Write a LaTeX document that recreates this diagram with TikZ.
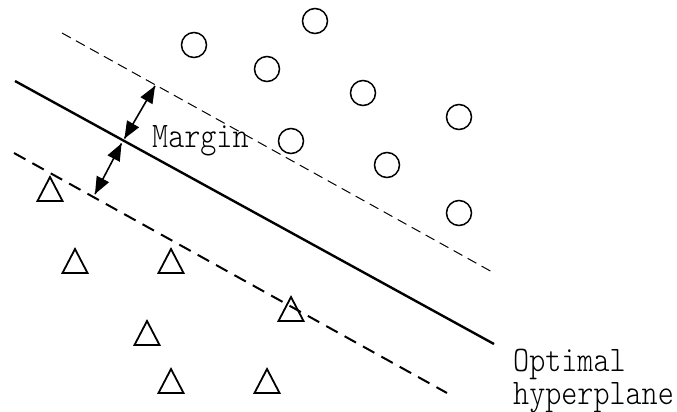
\documentclass[tikz,border=0pt]{standalone}
\usepackage{fontspec}
\usetikzlibrary{calc}
\newfontfamily\lblfont[FakeStretch=0.85]{Latin Modern Mono Light}
\tikzset{
  dot/.style={circle,draw,line width=1.5pt,minimum size=25pt,inner sep=0pt},
  tri/.style={line width=1.8pt,line join=miter},
  hyper/.style={line width=2.4pt},
  margthin/.style={line width=1pt,dash pattern=on 10pt off 6pt},
  margthick/.style={line width=2pt,dash pattern=on 13pt off 8pt},
  marrow/.style={line width=1.6pt},
  ahead/.style={fill=black,draw=none},
  lbl/.style={inner sep=0pt,anchor=base west,align=left,font=\lblfont\fontsize{36}{33}\selectfont}
}
\newcommand\mytri[1]{\draw[tri] ($(#1)+(-12.5,12)$) -- ($(#1)+(0,-12)$) -- ($(#1)+(12.5,12)$) -- cycle;}
% arrowhead: tip at #1, pointing away from #2
\newcommand\myhead[2]{%
  \coordinate (hb) at ($(#1)!17pt!(#2)$);
  \fill[ahead] (#1) -- ($(hb)!7pt!90:(#1)$) -- ($(hb)!7pt!-90:(#1)$) -- cycle;}
\begin{document}
\begin{tikzpicture}[x=1pt,y=-1pt]
\path[use as bounding box] (0,0) rectangle (677,412);
% lines
\coordinate (h1) at (15,81);
\coordinate (h2) at (494,344);
\coordinate (u1) at (62,33);
\coordinate (u2) at (494,273);
\coordinate (l1) at (14,153);
\coordinate (l2) at (447,393);
\draw[hyper] (h1) -- (h2);
\draw[margthin] (u1) -- (u2);
\draw[margthick] (l1) -- (l2);
% margin arrows
\coordinate (mu) at (155,86);
\coordinate (ml) at (95,194);
\coordinate (mu0) at (124.5,138.5);
\coordinate (ml0) at (121.5,143.5);
\draw[marrow] (mu0) -- (mu);
\draw[marrow] (ml0) -- (ml);
\myhead{mu}{mu0}\myhead{mu0}{mu}
\myhead{ml}{ml0}\myhead{ml0}{ml}
% circles
\node[dot] (c1) at (194,45) {};
\node[dot] (c2) at (315,21) {};
\node[dot] (c3) at (267,69) {};
\node[dot] (c4) at (363,93) {};
\node[dot] (c5) at (459,117) {};
\node[dot] (c6) at (291,141) {};
\node[dot] (c7) at (387,165) {};
\node[dot] (c8) at (459,213) {};
% triangles
\coordinate (t1) at (50,189);
\coordinate (t2) at (75,261);
\coordinate (t3) at (171,261);
\coordinate (t4) at (291,309);
\coordinate (t5) at (147,333);
\coordinate (t6) at (171,381);
\coordinate (t7) at (267,381);
\mytri{t1}\mytri{t2}\mytri{t3}\mytri{t4}\mytri{t5}\mytri{t6}\mytri{t7}
% labels
\node[lbl] (marg) at (152,147) {Margin};
\node[lbl] (opt) at (513,404) {Optimal\\hyperplane};
\end{tikzpicture}
\end{document}
